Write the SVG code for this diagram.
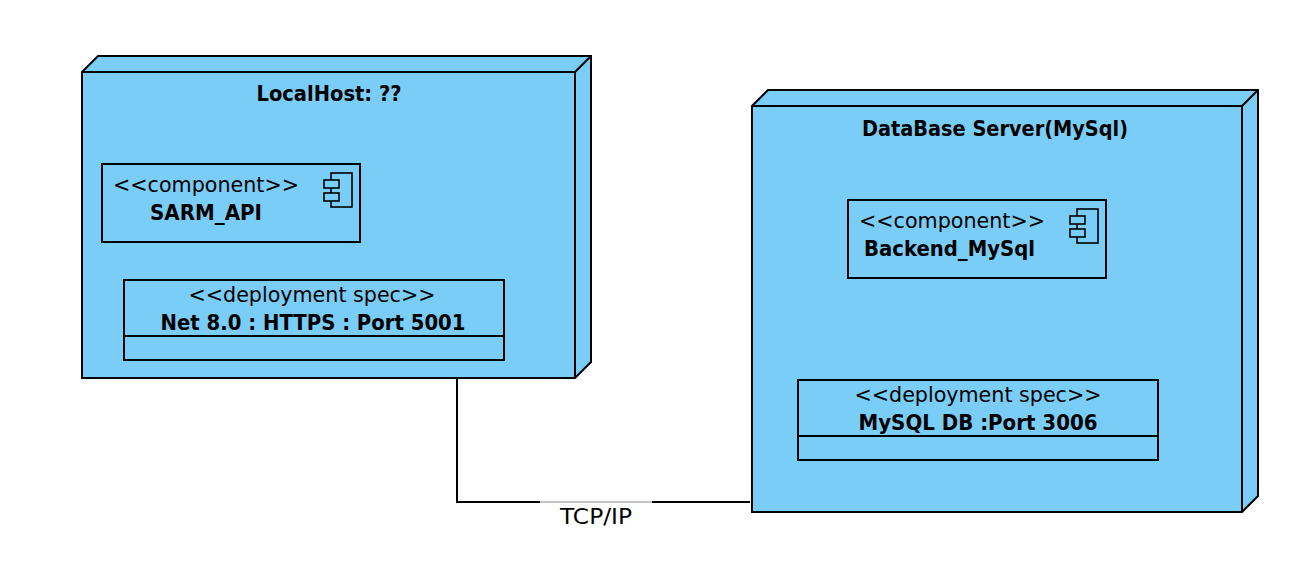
<svg xmlns="http://www.w3.org/2000/svg" width="1304" height="562" viewBox="0 0 1304 562">
<style>
.s{fill:#79cdf6;stroke:#000;stroke-width:2;stroke-linejoin:miter}
.l{fill:none;stroke:#000;stroke-width:2}
.i{fill:#79cdf6;stroke:#000;stroke-width:1.6}
text{font-family:"DejaVu Sans",sans-serif;font-size:21px;fill:#000}
.b{font-weight:bold;font-size:21px}
</style>
<rect width="1304" height="562" fill="#fff"/>
<g id="connectors">
<path class="l" d="M457 378V502H750"/>
<rect x="540" y="501" width="112" height="3" fill="#fff"/>
<path d="M540 502H652" stroke="#888" stroke-width="1"/>
<text id="tcp" x="596" y="524" text-anchor="middle" textLength="72" lengthAdjust="spacingAndGlyphs">TCP/IP</text>
</g>
<g id="localhost">
<path class="s" d="M82 72L98 56H591V362L575 378H82Z"/>
<path class="l" d="M82 72H575V378M575 72L591 56"/>
<text class="b" x="329" y="101" text-anchor="middle" textLength="145" lengthAdjust="spacingAndGlyphs">LocalHost: ??</text>
</g>
<g id="sarm-api">
<rect class="s" x="102" y="164" width="258" height="78"/>
<text x="113" y="192" textLength="186" lengthAdjust="spacingAndGlyphs">&lt;&lt;component&gt;&gt;</text>
<text class="b" x="150" y="220" textLength="112" lengthAdjust="spacingAndGlyphs">SARM_API</text>
<rect class="i" x="331" y="173" width="21" height="34"/>
<rect class="i" x="324" y="180" width="15" height="8"/>
<rect class="i" x="324" y="193" width="15" height="8"/>
</g>
<g id="net-spec">
<rect class="s" x="124" y="280" width="380" height="80"/>
<path class="l" d="M124 336H504"/>
<text x="312" y="302" text-anchor="middle" textLength="247" lengthAdjust="spacingAndGlyphs">&lt;&lt;deployment spec&gt;&gt;</text>
<text class="b" x="313" y="330" text-anchor="middle" textLength="305" lengthAdjust="spacingAndGlyphs">Net 8.0 : HTTPS : Port 5001</text>
</g>
<g id="database">
<path class="s" d="M752 106L768 90H1258V496L1242 512H752Z"/>
<path class="l" d="M752 106H1242V512M1242 106L1258 90"/>
<text class="b" x="995" y="136" text-anchor="middle" textLength="266" lengthAdjust="spacingAndGlyphs">DataBase Server(MySql)</text>
</g>
<g id="backend">
<rect class="s" x="848" y="200" width="258" height="78"/>
<text x="859" y="228" textLength="186" lengthAdjust="spacingAndGlyphs">&lt;&lt;component&gt;&gt;</text>
<text class="b" x="864" y="256" textLength="171" lengthAdjust="spacingAndGlyphs">Backend_MySql</text>
<rect class="i" x="1077" y="209" width="21" height="34"/>
<rect class="i" x="1070" y="216" width="15" height="8"/>
<rect class="i" x="1070" y="229" width="15" height="8"/>
</g>
<g id="mysql-spec">
<rect class="s" x="798" y="380" width="360" height="80"/>
<path class="l" d="M798 436H1158"/>
<text x="978" y="402" text-anchor="middle" textLength="247" lengthAdjust="spacingAndGlyphs">&lt;&lt;deployment spec&gt;&gt;</text>
<text class="b" x="978" y="430" text-anchor="middle" textLength="239" lengthAdjust="spacingAndGlyphs">MySQL DB :Port 3006</text>
</g>
</svg>
